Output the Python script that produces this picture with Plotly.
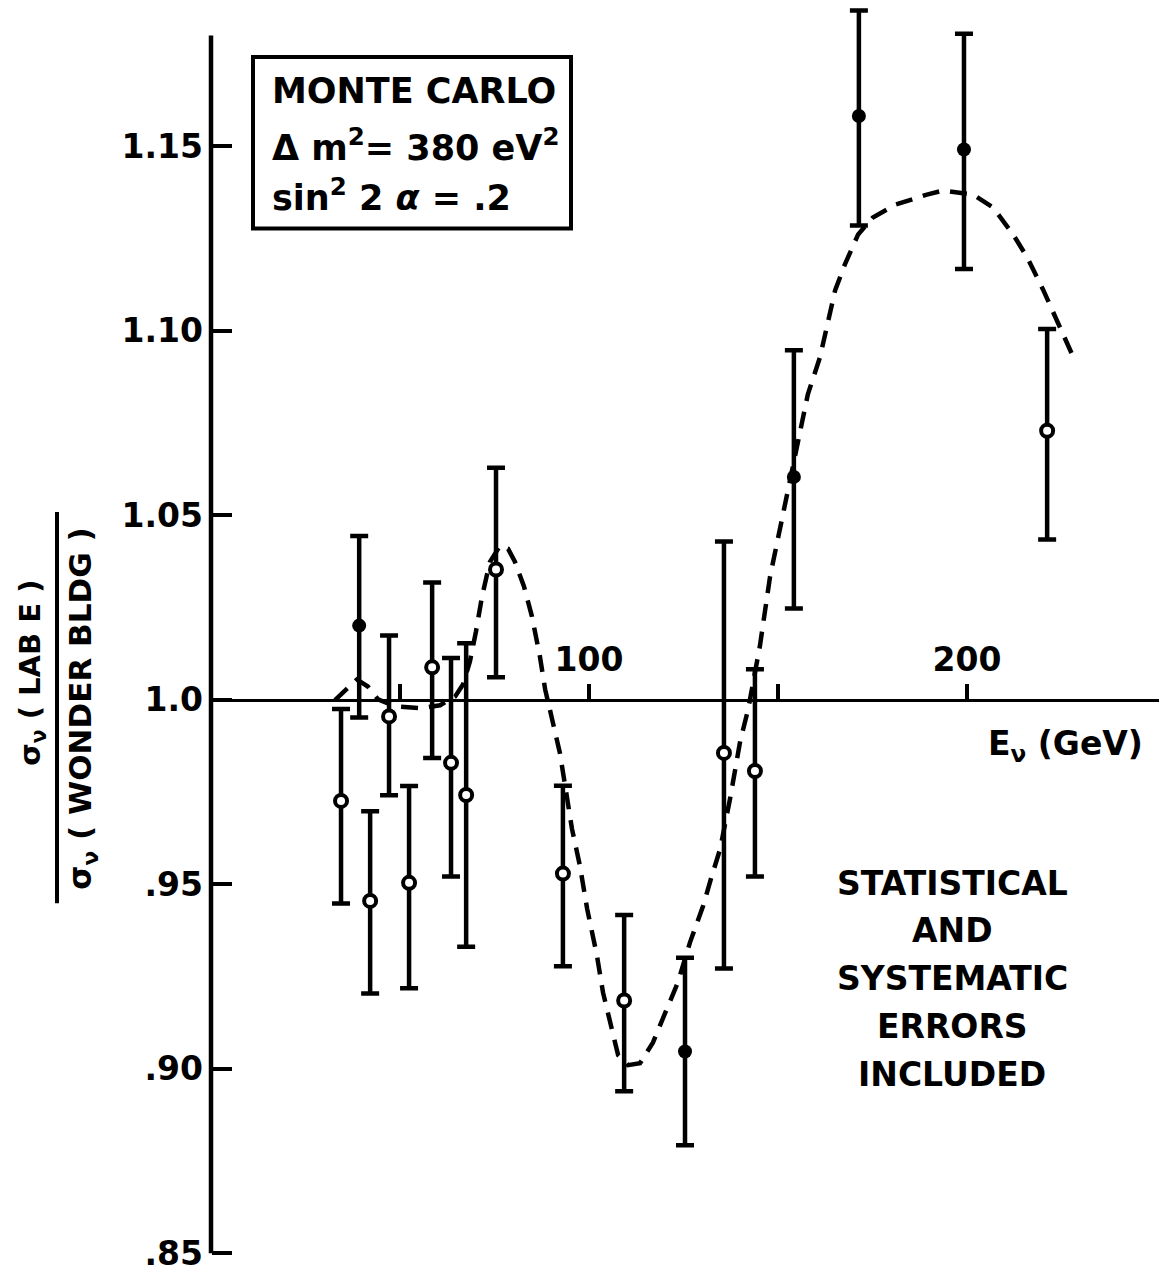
import plotly.graph_objects as go

# ---------------- data ----------------
energy = [34.4, 39.2, 42.1, 47.1, 52.4, 58.5, 63.5, 67.5, 75.4, 93.1,
          109.3, 125.4, 135.7, 143.9, 154.2, 171.4, 199.2, 221.2]
ratio = [0.9726, 1.0201, 0.9455, 0.9955, 0.9504, 1.0088, 0.9829, 0.9742, 1.0353, 0.9529,
         0.9185, 0.9047, 0.9856, 0.9807, 1.0604, 1.1582, 1.1491, 1.0729]
err_up = [0.0249, 0.0243, 0.0243, 0.0219, 0.0262, 0.0230, 0.0284, 0.0411, 0.0276, 0.0238,
          0.0232, 0.0254, 0.0573, 0.0276, 0.0343, 0.0286, 0.0314, 0.0276]
err_down = [0.0278, 0.0249, 0.0251, 0.0214, 0.0286, 0.0246, 0.0308, 0.0411, 0.0292, 0.0251,
            0.0246, 0.0254, 0.0584, 0.0286, 0.0357, 0.0297, 0.0324, 0.0295]
filled = [False, True, False, False, False, False, False, False, False, False,
          False, True, False, False, True, True, True, False]

# Monte Carlo curve (dashed)
curve_e = [32.8, 35.7, 38.6, 41.5, 44.2, 48.7, 55.3, 60.6, 64.6, 66.7, 68.5, 70.1, 71.7,
           73.8, 76.5, 78.6, 80.4, 82.8, 84.9, 87.0, 88.4, 90.5, 92.3, 95.5, 97.6, 99.5,
           102.1, 103.7, 106.1, 107.7, 110.3, 113.5, 116.9, 120.6, 123.5, 126.7, 130.2,
           132.5, 134.7, 137.3, 140.0, 142.1, 145.2, 147.9, 149.7, 151.9, 154.2, 157.9,
           161.1, 163.0, 165.1, 167.7, 171.2, 175.1, 181.2, 189.4, 193.7, 201.6, 206.9,
           212.2, 215.9, 220.1, 223.8, 227.8]
curve_ratio = [0.9999, 1.0026, 1.0055, 1.0036, 1.0001, 0.9982, 0.9977, 0.9985, 1.0009, 1.0042,
               1.0104, 1.0185, 1.0280, 1.0374, 1.0418, 1.0409, 1.0374, 1.0307, 1.0226, 1.0118,
               1.0028, 0.9936, 0.9856, 0.9650, 0.9550, 0.9434, 0.9307, 0.9207, 0.9110, 0.9037,
               0.9010, 0.9015, 0.9071, 0.9163, 0.9234, 0.9342, 0.9442, 0.9523, 0.9596, 0.9731,
               0.9888, 0.9974, 1.0145, 1.0334, 1.0423, 1.0531, 1.0631, 1.0828, 1.0928, 1.1018,
               1.1109, 1.1180, 1.1261, 1.1307, 1.1342, 1.1369, 1.1380, 1.1369, 1.1334, 1.1261,
               1.1199, 1.1112, 1.1028, 1.0936]

y_tick_vals = [0.85, 0.90, 0.95, 1.0, 1.05, 1.10, 1.15]
y_tick_text = [".85", ".90", ".95", "1.0", "1.05", "1.10", "1.15"]
x_tick_vals = [100, 200]
x_tick_text = ["100", "200"]
x_minor_vals = [50, 150]
y_axis_span = [0.85, 1.18]

box_lines = ["MONTE CARLO", "Δ m<sup>2</sup>= 380 eV<sup>2</sup>", "sin<sup>2</sup> 2 <i>α</i> = .2"]
note_lines = ["STATISTICAL", "AND", "SYSTEMATIC", "ERRORS", "INCLUDED"]

# ---------------- layout helpers ----------------
W, H = 1159, 1273
SY = 3697.0            # px per unit on y
SX = 3.78              # px per GeV on x
ML, MR, MT = 211, 0, 0
Y_TOP = 1.15 + 146.5 / SY          # value at the very top of the page
Y_BOT = 0.849
PH = (Y_TOP - Y_BOT) * SY
MB = H - MT - PH
PW = W - ML - MR
Y_RANGE = [Y_BOT, Y_TOP]
X_RANGE = [0, PW / SX]


def xp(px):
    return (px - ML) / PW


def yp(py):
    return (H - MB - py) / PH


def yv(v):
    return (v - Y_BOT) / (Y_TOP - Y_BOT)


FONT = "DejaVu Sans"

fig = go.Figure()

fig.add_trace(go.Scatter(
    x=curve_e, y=curve_ratio, mode="lines",
    line=dict(color="black", width=4.5, dash="17px,11px"),
    hoverinfo="skip", cliponaxis=False,
))

for is_filled in (False, True):
    idx = [i for i, f in enumerate(filled) if f == is_filled]
    fig.add_trace(go.Scatter(
        x=[energy[i] for i in idx],
        y=[ratio[i] for i in idx],
        mode="markers",
        cliponaxis=False,
        marker=dict(
            symbol="circle",
            size=14 if is_filled else 12,
            color="black" if is_filled else "white",
            line=dict(color="black", width=0 if is_filled else 4),
        ),
        error_y=dict(
            type="data", symmetric=False,
            array=[err_up[i] for i in idx],
            arrayminus=[err_down[i] for i in idx],
            color="black", thickness=4.5, width=9,
        ),
    ))

fig.update_layout(
    width=W, height=H,
    margin=dict(l=ML, r=MR, t=MT, b=MB, pad=0),
    paper_bgcolor="white", plot_bgcolor="white",
    showlegend=False,
    xaxis=dict(
        range=X_RANGE, anchor="free",
        position=(1.0 - Y_RANGE[0]) / (Y_RANGE[1] - Y_RANGE[0]),
        side="top", showline=True, linecolor="black", linewidth=3,
        ticks="outside", ticklen=15, tickwidth=3.5, tickcolor="black",
        tickvals=x_tick_vals, ticktext=x_tick_text,
        minor=dict(tickvals=x_minor_vals, ticks="outside", ticklen=15,
                   tickwidth=3.5, tickcolor="black", showgrid=False),
        tickfont=dict(family=FONT, size=33, color="black", weight="bold"),
        ticklabeloverflow="allow",
        showgrid=False, zeroline=False,
    ),
    yaxis=dict(
        range=Y_RANGE, anchor="free", position=0,
        showline=False,
        ticks="inside", ticklen=20, tickwidth=3.5, tickcolor="black",
        tickvals=y_tick_vals, ticktext=y_tick_text,
        tickfont=dict(family=FONT, size=33, color="black", weight="bold"),
        ticklabelstandoff=8,
        ticklabeloverflow="allow",
        showgrid=False, zeroline=False,
    ),
)

# vertical axis line (ends at .85 and near 1.18 like the reference)
fig.add_shape(type="line", xref="paper", yref="paper", x0=0, x1=0,
              y0=yv(y_axis_span[0]), y1=yv(y_axis_span[1]),
              line=dict(color="black", width=4.5))

# Monte Carlo box
fig.add_shape(type="rect", xref="paper", yref="paper",
              x0=xp(253), x1=xp(571), y0=yp(229), y1=yp(57),
              line=dict(color="black", width=4), fillcolor="rgba(0,0,0,0)")
for txt, cy in zip(box_lines, [91, 145, 195]):
    fig.add_annotation(text=txt, xref="paper", yref="paper", x=xp(270), y=yp(cy),
                       xanchor="left", yanchor="middle", showarrow=False,
                       font=dict(family=FONT, size=35, color="black", weight="bold"))

# note text
for txt, cy in zip(note_lines, [885, 932, 980, 1028, 1076]):
    fig.add_annotation(text=txt, xref="paper", yref="paper", x=xp(952), y=yp(cy),
                       xanchor="center", yanchor="middle", showarrow=False,
                       font=dict(family=FONT, size=33, color="black", weight="bold"))

# x axis title
fig.add_annotation(text="E<sub>ν</sub> (GeV)", xref="paper", yref="paper",
                   x=xp(1065), y=yp(747), xanchor="center", yanchor="middle",
                   showarrow=False,
                   font=dict(family=FONT, size=33, color="black", weight="bold"))

# y axis title as a fraction
fig.add_annotation(text="σ<sub>ν</sub> ( LAB E )", xref="paper", yref="paper",
                   x=xp(32), y=yp(674), textangle=-90, xanchor="center", yanchor="middle",
                   showarrow=False,
                   font=dict(family=FONT, size=29, color="black", weight="bold"))
fig.add_annotation(text="σ<sub>ν</sub> ( WONDER BLDG )", xref="paper", yref="paper",
                   x=xp(83), y=yp(710), textangle=-90, xanchor="center", yanchor="middle",
                   showarrow=False,
                   font=dict(family=FONT, size=31, color="black", weight="bold"))
fig.add_shape(type="line", xref="paper", yref="paper",
              x0=xp(57), x1=xp(57), y0=yp(513), y1=yp(905),
              line=dict(color="black", width=4))

fig.write_html("out.html")
